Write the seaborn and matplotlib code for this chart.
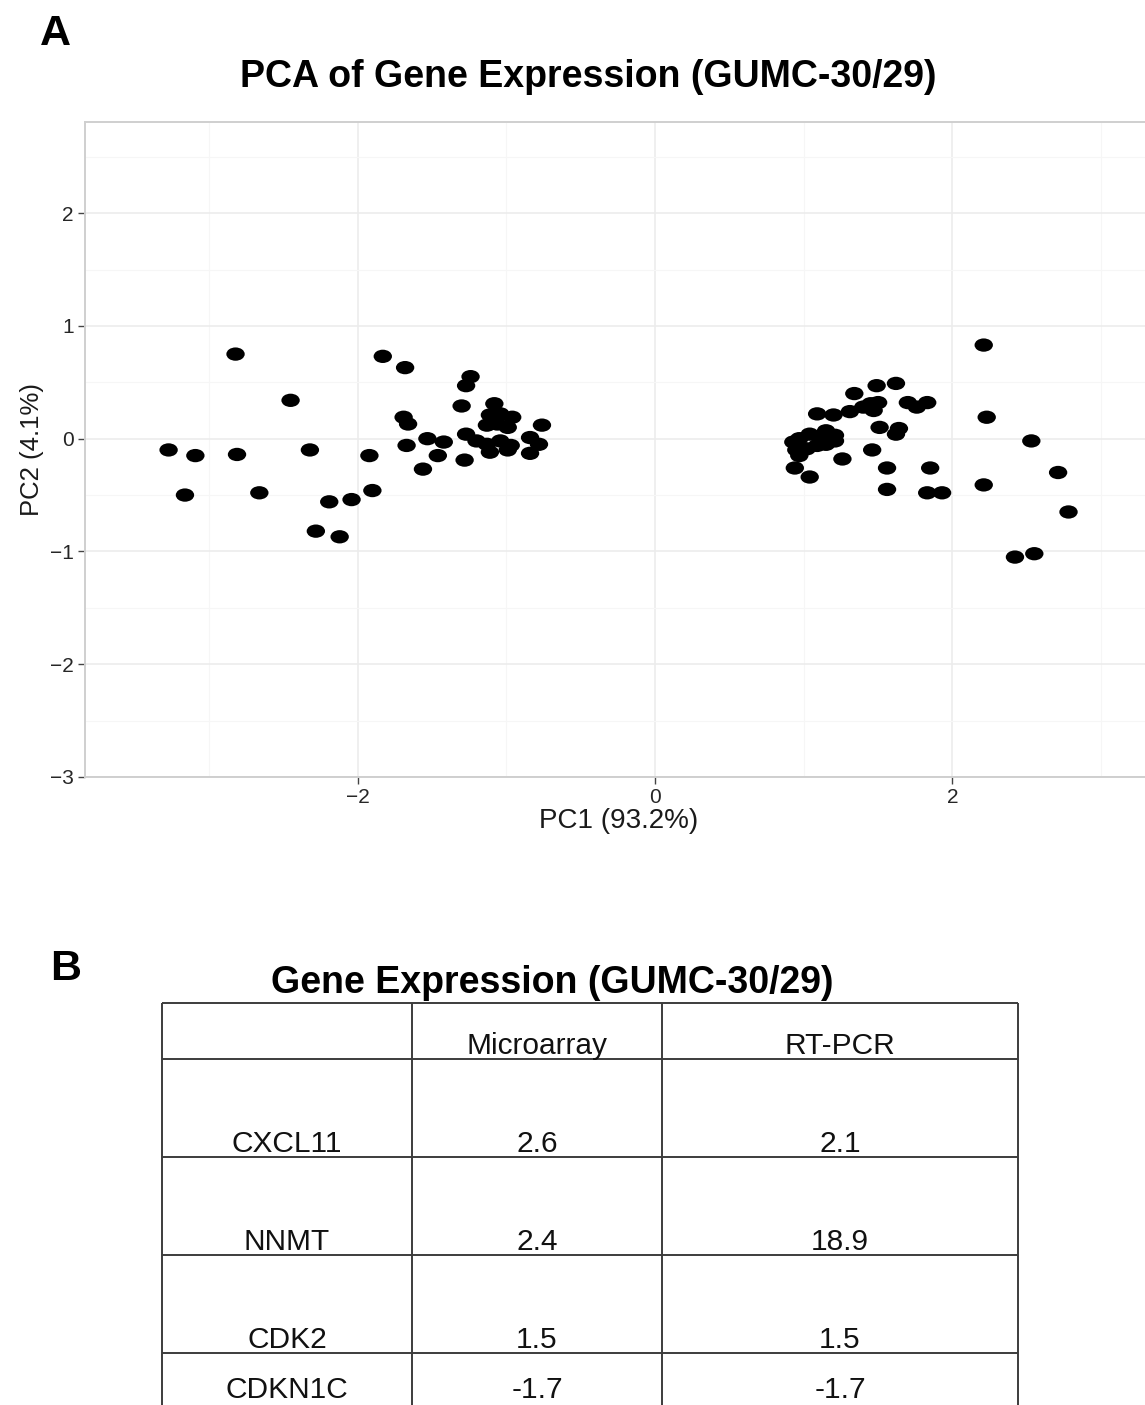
import numpy as np
import pandas as pd
import matplotlib
matplotlib.use("Agg")
import matplotlib.pyplot as plt
from matplotlib.path import Path
from matplotlib.ticker import FixedLocator
import seaborn as sns

# ---------------- data ----------------
pc1_left = [-3.27, -3.09, -3.16, -2.82, -2.81, -2.66, -2.45, -2.32, -2.28, -2.19,
            -2.12, -2.04, -1.92, -1.90, -1.83, -1.68, -1.69, -1.66, -1.67, -1.53,
            -1.56, -1.46, -1.42, -1.30, -1.27, -1.24, -1.27, -1.28, -1.20, -1.08,
            -1.11, -1.04, -0.96, -1.13, -1.06, -0.99, -1.13, -1.04, -0.97, -1.11,
            -0.99, -0.84, -0.78, -0.84, -0.76]
pc2_left = [-0.10, -0.15, -0.50, 0.75, -0.14, -0.48, 0.34, -0.10, -0.82, -0.56,
            -0.87, -0.54, -0.15, -0.46, 0.73, 0.63, 0.19, 0.13, -0.06, 0.00,
            -0.27, -0.15, -0.03, 0.29, 0.47, 0.55, 0.04, -0.19, -0.02, 0.31,
            0.21, 0.22, 0.19, 0.12, 0.13, 0.10, -0.05, -0.02, -0.06, -0.12,
            -0.10, 0.01, -0.05, -0.13, 0.12]
pc1_right = [2.21, 2.23, 2.53, 2.71, 2.78, 2.21, 2.42, 2.55, 1.62, 1.49,
             1.34, 1.45, 1.50, 1.40, 1.47, 1.70, 1.76, 1.83, 1.31, 1.20,
             1.09, 1.51, 1.64, 1.62, 1.15, 1.21, 1.11, 1.04, 0.97, 0.93,
             0.95, 1.02, 1.09, 1.15, 1.21, 0.97, 1.46, 1.26, 0.94, 1.04,
             1.56, 1.85, 1.56, 1.83, 1.93]
pc2_right = [0.83, 0.19, -0.02, -0.30, -0.65, -0.41, -1.05, -1.02, 0.49, 0.47,
             0.40, 0.31, 0.32, 0.28, 0.25, 0.32, 0.28, 0.32, 0.24, 0.21,
             0.22, 0.10, 0.09, 0.04, 0.07, 0.03, 0.01, 0.04, 0.00, -0.03,
             -0.10, -0.09, -0.06, -0.05, -0.02, -0.15, -0.10, -0.18, -0.26, -0.34,
             -0.26, -0.26, -0.45, -0.48, -0.48]

pca_title = "PCA of Gene Expression (GUMC-30/29)"
x_label = "PC1 (93.2%)"
y_label = "PC2 (4.1%)"
x_ticks = [-2, 0, 2]
y_ticks = [-3, -2, -1, 0, 1, 2]

table_title = "Gene Expression (GUMC-30/29)"
table_columns = ["", "Microarray", "RT-PCR"]
genes = ["CXCL11", "NNMT", "CDK2", "CDKN1C"]
microarray = ["2.6", "2.4", "1.5", "-1.7"]
rt_pcr = ["2.1", "18.9", "1.5", "-1.7"]

df = pd.DataFrame({"PC1": pc1_left + pc1_right, "PC2": pc2_left + pc2_right})

# ---------------- style ----------------
sns.set_theme(style="white")
plt.rcParams["font.family"] = ["Liberation Sans", "DejaVu Sans"]
plt.rcParams["axes.unicode_minus"] = True

W, H = 1145, 1405
fig = plt.figure(figsize=(W / 100, H / 100), dpi=100)
fig.patch.set_facecolor("white")

def fx(px):
    return px / W

def fy(py):
    return 1 - py / H

# ---------------- panel A ----------------
ax_l, ax_r, ax_t, ax_b = 85, 1153, 122, 777
ax = fig.add_axes([fx(ax_l), fy(ax_b), (ax_r - ax_l) / W, (ax_b - ax_t) / H])
ax.set_facecolor("white")

circ = Path.unit_circle()
ellipse = Path(circ.vertices * np.array([1.38, 1.0]), circ.codes)

sns.scatterplot(data=df, x="PC1", y="PC2", ax=ax, marker=ellipse, s=175,
                color="black", edgecolor="none", linewidth=0, zorder=3)

ax.set_xlim(-3.832, 3.348)
ax.set_ylim(-3.0, 2.808)
ax.xaxis.set_major_locator(FixedLocator(x_ticks))
ax.yaxis.set_major_locator(FixedLocator(y_ticks))
ax.xaxis.set_minor_locator(FixedLocator([-3, -1, 1, 3]))
ax.yaxis.set_minor_locator(FixedLocator([-2.5, -1.5, -0.5, 0.5, 1.5, 2.5]))
ax.grid(which="major", color="#ececec", linewidth=1.2, zorder=0)
ax.grid(which="minor", color="#f6f6f6", linewidth=0.8, zorder=0)
ax.set_axisbelow(True)
ax.tick_params(which="major", direction="out", length=5, width=1.0,
               color="#444444", labelsize=15, labelcolor="#262626", pad=3,
               bottom=True, left=True)
ax.tick_params(which="minor", length=0)
for sp in ax.spines.values():
    sp.set_color("#cfcfcf")
    sp.set_linewidth(1.4)

ax.set_xlabel(x_label, fontsize=20, color="#1a1a1a", labelpad=1)
ax.set_ylabel(y_label, fontsize=18.5, color="#1a1a1a", labelpad=4)

fig.text(fx(588), fy(77), pca_title, fontsize=27, fontweight="bold",
         ha="center", va="center", color="black")
fig.text(fx(40), fy(45), "A", fontsize=31, fontweight="bold",
         ha="left", va="baseline", color="black")

# ---------------- panel B (table) ----------------
fig.text(fx(50), fy(980), "B", fontsize=31, fontweight="bold",
         ha="left", va="baseline", color="black")
fig.text(fx(552), fy(983), table_title, fontsize=27, fontweight="bold",
         ha="center", va="center", color="black")

t_left, t_right, t_top, t_bot = 162, 1018, 1003, 1409
tax = fig.add_axes([fx(t_left), fy(t_bot), (t_right - t_left) / W, (t_bot - t_top) / H])
tax.set_xlim(0, t_right - t_left)
tax.set_ylim(t_bot - t_top, 0)
tax.axis("off")

col_edges = [0, 250, 500, 856]
row_edges = [0, 56, 154, 252, 350, 406]
line_kw = dict(color="#3c3c3c", linewidth=1.4, clip_on=False)
tax.hlines(row_edges, col_edges[0], col_edges[-1], **line_kw)
tax.vlines(col_edges, row_edges[0], row_edges[-1], **line_kw)

col_centers = [(col_edges[i] + col_edges[i + 1]) / 2 for i in range(3)]
rows = [table_columns] + [[g, m, r] for g, m, r in zip(genes, microarray, rt_pcr)]
for i, row in enumerate(rows):
    base = row_edges[i + 1] - (5 if i < len(rows) - 1 else 11)
    for j, txt in enumerate(row):
        tax.text(col_centers[j], base, txt, fontsize=21.5, ha="center",
                 va="baseline", color="#111111")

fig.savefig("out.png", dpi=100, facecolor="white")
